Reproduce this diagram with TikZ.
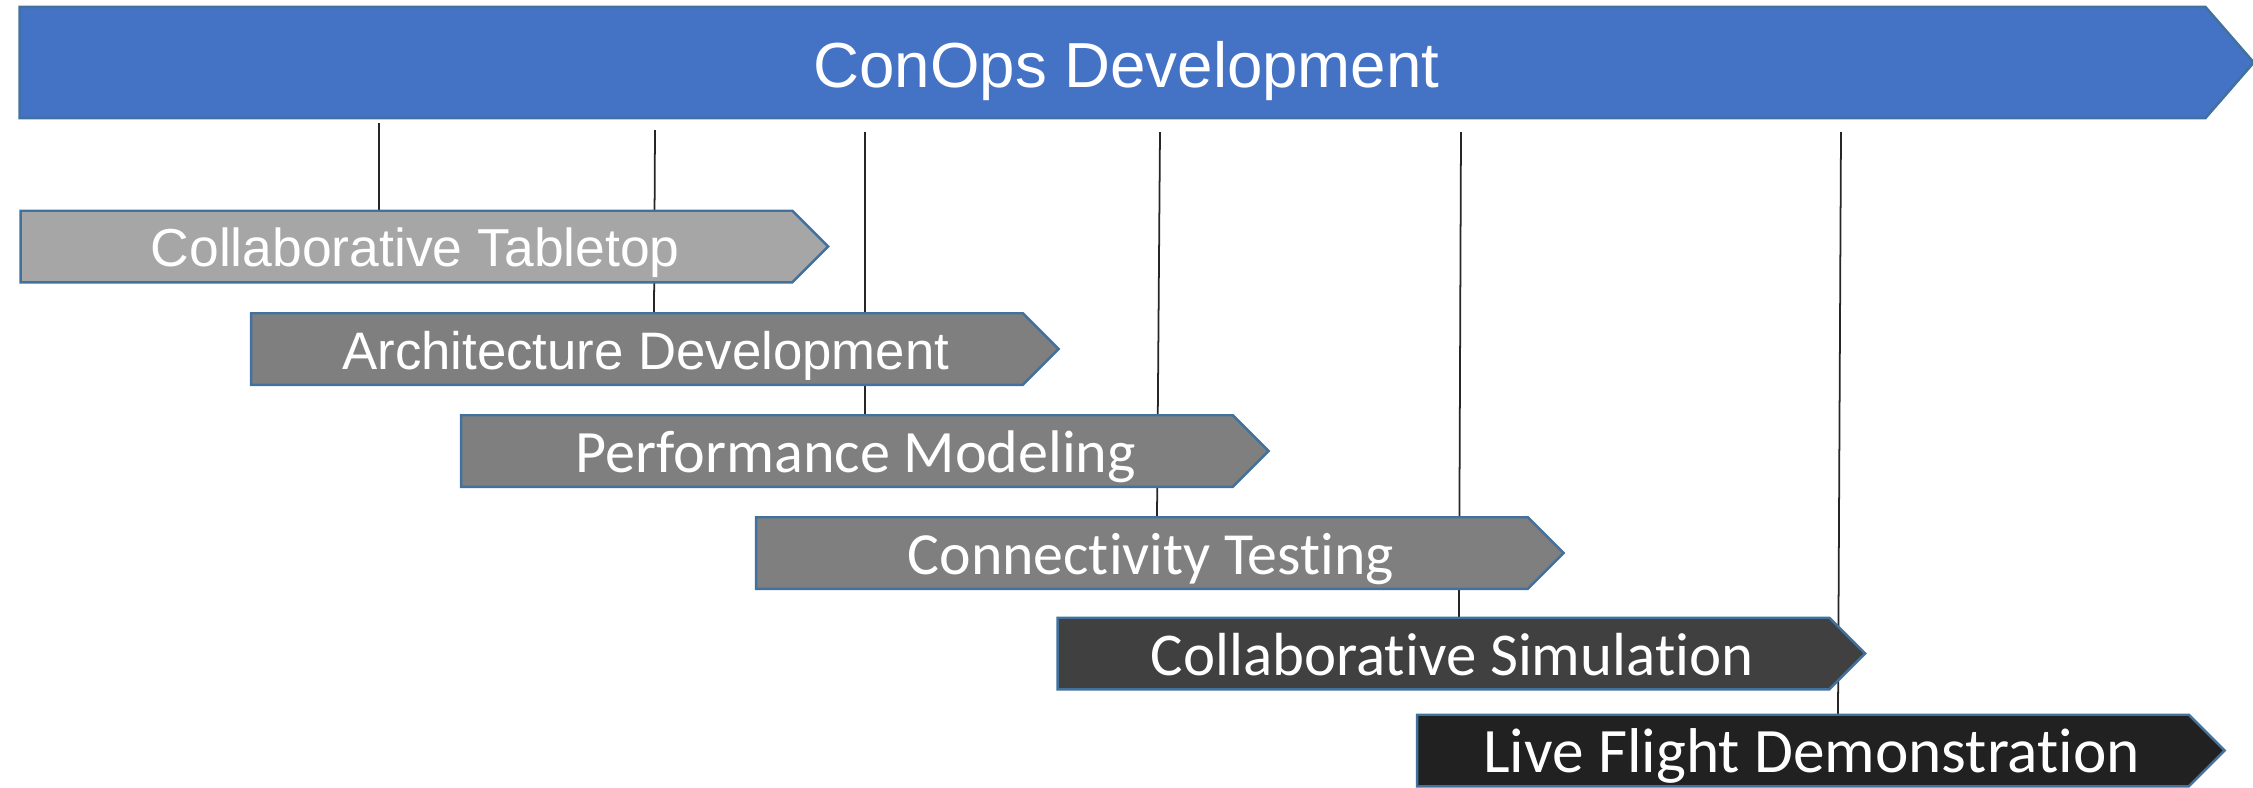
\documentclass[tikz,border=0pt]{standalone}
\usepackage{fontspec}
\setmainfont{Liberation Sans}
\newfontfamily\calibri[Ligatures=NoCommon]{Carlito}
\usetikzlibrary{shapes.symbols,backgrounds}

\definecolor{conopsblue}{HTML}{4472C4}
\definecolor{edgeblue}{HTML}{41719C}
\definecolor{greyA}{HTML}{A6A6A6}
\definecolor{greyB}{HTML}{7F7F7F}
\definecolor{greyC}{HTML}{404040}
\definecolor{greyD}{HTML}{212121}

\begin{document}
\begin{tikzpicture}[x=0.01cm, y=-0.01cm,
  phase/.style={signal, signal to=east, signal pointer angle=90, draw=edgeblue, line width=0.7pt, minimum width=8.07cm, minimum height=0.715cm, inner sep=0pt, outer sep=0pt},
  lbl/.style={anchor=base, text=white, inner sep=0pt},
  tick/.style={black!85, line width=0.5pt}]
\useasboundingbox (0,0) rectangle (2253,787);
\node[phase, fill=conopsblue, minimum width=22.33cm, minimum height=1.11cm, signal pointer angle=98] (conops) at (1112.5,62.5) {};
\node[phase, fill=greyA] (ph1) at (406.5,246.5) {};
\node[phase, fill=greyB] (ph2) at (637,349) {};
\node[phase, fill=greyB] (ph3) at (847,451) {};
\node[phase, fill=greyB] (ph4) at (1142,553) {};
\node[phase, fill=greyC] (ph5) at (1443.5,653.5) {};
\node[phase, fill=greyD] (ph6) at (1803,750.5) {};
\node[lbl, font=\fontsize{18.1}{20}\selectfont] (t0) at ([xshift=0.14cm, yshift=-0.245cm]conops.center) {ConOps Development};
\node[lbl, font=\fontsize{15.2}{17}\selectfont] (t1) at ([xshift=0.087cm, yshift=-0.2cm]ph1.center) {Collaborative Tabletop};
\node[lbl, font=\fontsize{15}{17}\selectfont] (t2) at ([xshift=0.087cm, yshift=-0.2cm]ph2.center) {Architecture Development};
\node[lbl, font=\calibri\fontsize{17.1}{19}\selectfont] (t3) at ([xshift=0.087cm, yshift=-0.215cm]ph3.center) {Performance Modeling};
\node[lbl, font=\calibri\fontsize{17}{19}\selectfont] (t4) at ([xshift=0.087cm, yshift=-0.215cm]ph4.center) {Connectivity Testing};
\node[lbl, font=\calibri\fontsize{17.3}{19}\selectfont] (t5) at ([xshift=0.087cm, yshift=-0.215cm]ph5.center) {Collaborative Simulation};
\node[lbl, font=\calibri\fontsize{18}{20}\selectfont] (t6) at ([xshift=0.087cm, yshift=-0.215cm]ph6.center) {Live Flight Demonstration};
% ticks from the ConOps bar down to each phase
\begin{scope}[on background layer]
\draw[tick] (379,123) -- (379,0 |- ph1.north);
\draw[tick] (655,130) -- (654,0 |- ph2.north);
\draw[tick] (865,132) -- (865,0 |- ph3.north);
\draw[tick] (1160,132) -- (1157,0 |- ph4.north);
\draw[tick] (1461,132) -- (1459,0 |- ph5.north);
\draw[tick] (1841,132) -- (1838,0 |- ph6.north);
\end{scope}
\end{tikzpicture}
\end{document}
